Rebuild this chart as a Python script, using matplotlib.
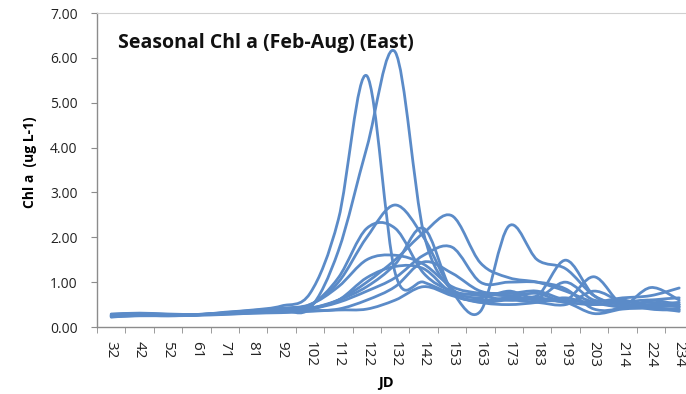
import numpy as np
import matplotlib
matplotlib.use("Agg")
import matplotlib.pyplot as plt
from matplotlib.path import Path
from matplotlib.patches import PathPatch

# Julian day of each sampling category
jd = [32, 42, 52, 61, 71, 81, 92, 102, 112, 122, 132, 142, 153, 163, 173,
      183, 193, 203, 214, 224, 234]

# Chl a (ug L-1), one list per year
yr_a = [0.22, 0.26, 0.25, 0.27, 0.33, 0.38, 0.47, 0.75, 2.40, 5.60, 1.20, 1.00,
        0.75, 0.65, 0.80, 0.70, 1.49, 0.70, 0.50, 0.45, 0.50]
yr_b = [0.29, 0.31, 0.29, 0.28, 0.30, 0.35, 0.38, 0.42, 1.70, 4.00, 6.13, 2.10,
        0.80, 0.35, 2.25, 1.50, 1.30, 0.70, 0.50, 0.55, 0.45]
yr_c = [0.24, 0.27, 0.26, 0.27, 0.31, 0.34, 0.40, 0.50, 1.00, 2.00, 2.72, 2.00,
        0.85, 0.75, 0.70, 0.75, 0.60, 1.12, 0.50, 0.60, 0.65]
yr_d = [0.27, 0.29, 0.27, 0.28, 0.30, 0.33, 0.36, 0.40, 0.60, 1.00, 1.50, 2.10,
        2.48, 1.43, 1.10, 1.00, 0.80, 0.55, 0.45, 0.50, 0.55]
yr_e = [0.25, 0.27, 0.27, 0.27, 0.30, 0.33, 0.38, 0.48, 1.10, 2.20, 2.20, 1.20,
        0.80, 0.70, 0.60, 0.65, 0.55, 0.50, 0.55, 0.60, 0.50]
yr_f = [0.23, 0.25, 0.25, 0.26, 0.28, 0.31, 0.34, 0.40, 0.55, 0.80, 1.10, 1.60,
        1.78, 1.00, 1.00, 1.00, 0.85, 0.40, 0.45, 0.88, 0.60]
yr_g = [0.26, 0.28, 0.27, 0.28, 0.31, 0.36, 0.40, 0.42, 0.60, 0.90, 1.40, 2.20,
        0.80, 0.60, 0.65, 0.60, 0.55, 0.30, 0.40, 0.42, 0.40]
yr_h = [0.25, 0.27, 0.26, 0.27, 0.32, 0.37, 0.42, 0.50, 0.90, 1.50, 1.60, 1.40,
        0.90, 0.75, 0.70, 0.65, 1.00, 0.60, 0.65, 0.70, 0.87]
yr_i = [0.24, 0.26, 0.26, 0.27, 0.30, 0.33, 0.36, 0.42, 0.60, 1.10, 1.35, 1.30,
        0.75, 0.55, 0.50, 0.55, 0.65, 0.50, 0.60, 0.45, 0.35]
yr_j = [0.25, 0.27, 0.27, 0.28, 0.30, 0.32, 0.33, 0.36, 0.40, 0.60, 0.90, 1.45,
        1.20, 0.80, 0.75, 0.80, 0.60, 0.55, 0.45, 0.50, 0.45]
yr_k = [0.28, 0.30, 0.28, 0.28, 0.29, 0.31, 0.32, 0.35, 0.38, 0.40, 0.60, 0.90,
        0.70, 0.55, 0.60, 0.55, 0.50, 0.80, 0.55, 0.40, 0.38]

series = [yr_a, yr_b, yr_c, yr_d, yr_e, yr_f, yr_g, yr_h, yr_i, yr_j, yr_k]

line_color = "#5B8BC8"
axis_color = "#8C8C8C"


def smooth_path(xs, ys):
    """Bezier path through the points, with control points in Catmull-Rom style."""
    pts = np.column_stack([xs, ys]).astype(float)
    n = len(pts)
    verts = [pts[0]]
    codes = [Path.MOVETO]
    for i in range(n - 1):
        p0 = pts[i - 1] if i > 0 else pts[i]
        p1 = pts[i]
        p2 = pts[i + 1]
        p3 = pts[i + 2] if i + 2 < n else pts[i + 1]
        c1 = p1 + (p2 - p0) / 6.0
        c2 = p2 - (p3 - p1) / 6.0
        verts.extend([c1, c2, p2])
        codes.extend([Path.CURVE4] * 3)
    return Path(verts, codes)


fig = plt.figure(figsize=(6.86, 3.94), dpi=100)
ax = fig.add_axes([0.1414, 0.170, 0.8694, 0.797])

x = np.arange(len(jd))
for ys in series:
    ax.add_patch(PathPatch(smooth_path(x, ys), facecolor="none",
                           edgecolor=line_color, lw=2.0, capstyle="round",
                           joinstyle="round"))

ax.set_xlim(-0.5, len(jd) - 0.5)
ax.set_ylim(0, 7)

ax.set_yticks(np.arange(0, 8, 1))
ax.set_yticklabels([f"{v:.2f}" for v in range(8)])
ax.set_xticks(x)
ax.set_xticklabels([str(v) for v in jd], rotation=270)
ax.set_xticks(np.arange(-0.5, len(jd), 1), minor=True)

ax.tick_params(axis="x", which="major", length=0, pad=10, labelsize=11,
               colors="#222222")
ax.tick_params(axis="x", which="minor", length=4, direction="out",
               color=axis_color)
ax.tick_params(axis="y", length=4, direction="out", color=axis_color,
               pad=10, labelsize=10, labelcolor="#222222")
for lab in ax.get_xticklabels() + ax.get_yticklabels():
    lab.set_fontfamily("Open Sans")

for side in ("left", "bottom"):
    ax.spines[side].set_color(axis_color)
    ax.spines[side].set_linewidth(1.0)
ax.spines["top"].set_color("#D0D0D0")
ax.spines["top"].set_linewidth(0.8)
ax.spines["right"].set_visible(False)

ax.set_xlabel("JD", fontfamily="Open Sans", fontweight="bold", fontsize=10.5)
ax.xaxis.set_label_coords(0.484, -0.156)
ax.set_ylabel("Chl a  (ug L-1)", fontfamily="Open Sans", fontweight="bold",
              fontsize=10)
ax.yaxis.set_label_coords(-0.10, 0.525)

ax.text(0.036, 0.905, "Seasonal Chl a (Feb-Aug) (East)", transform=ax.transAxes,
        fontfamily="Open Sans", fontweight="bold", fontsize=14,
        va="center", ha="left", color="#111111")

fig.savefig("out.png", dpi=100)
